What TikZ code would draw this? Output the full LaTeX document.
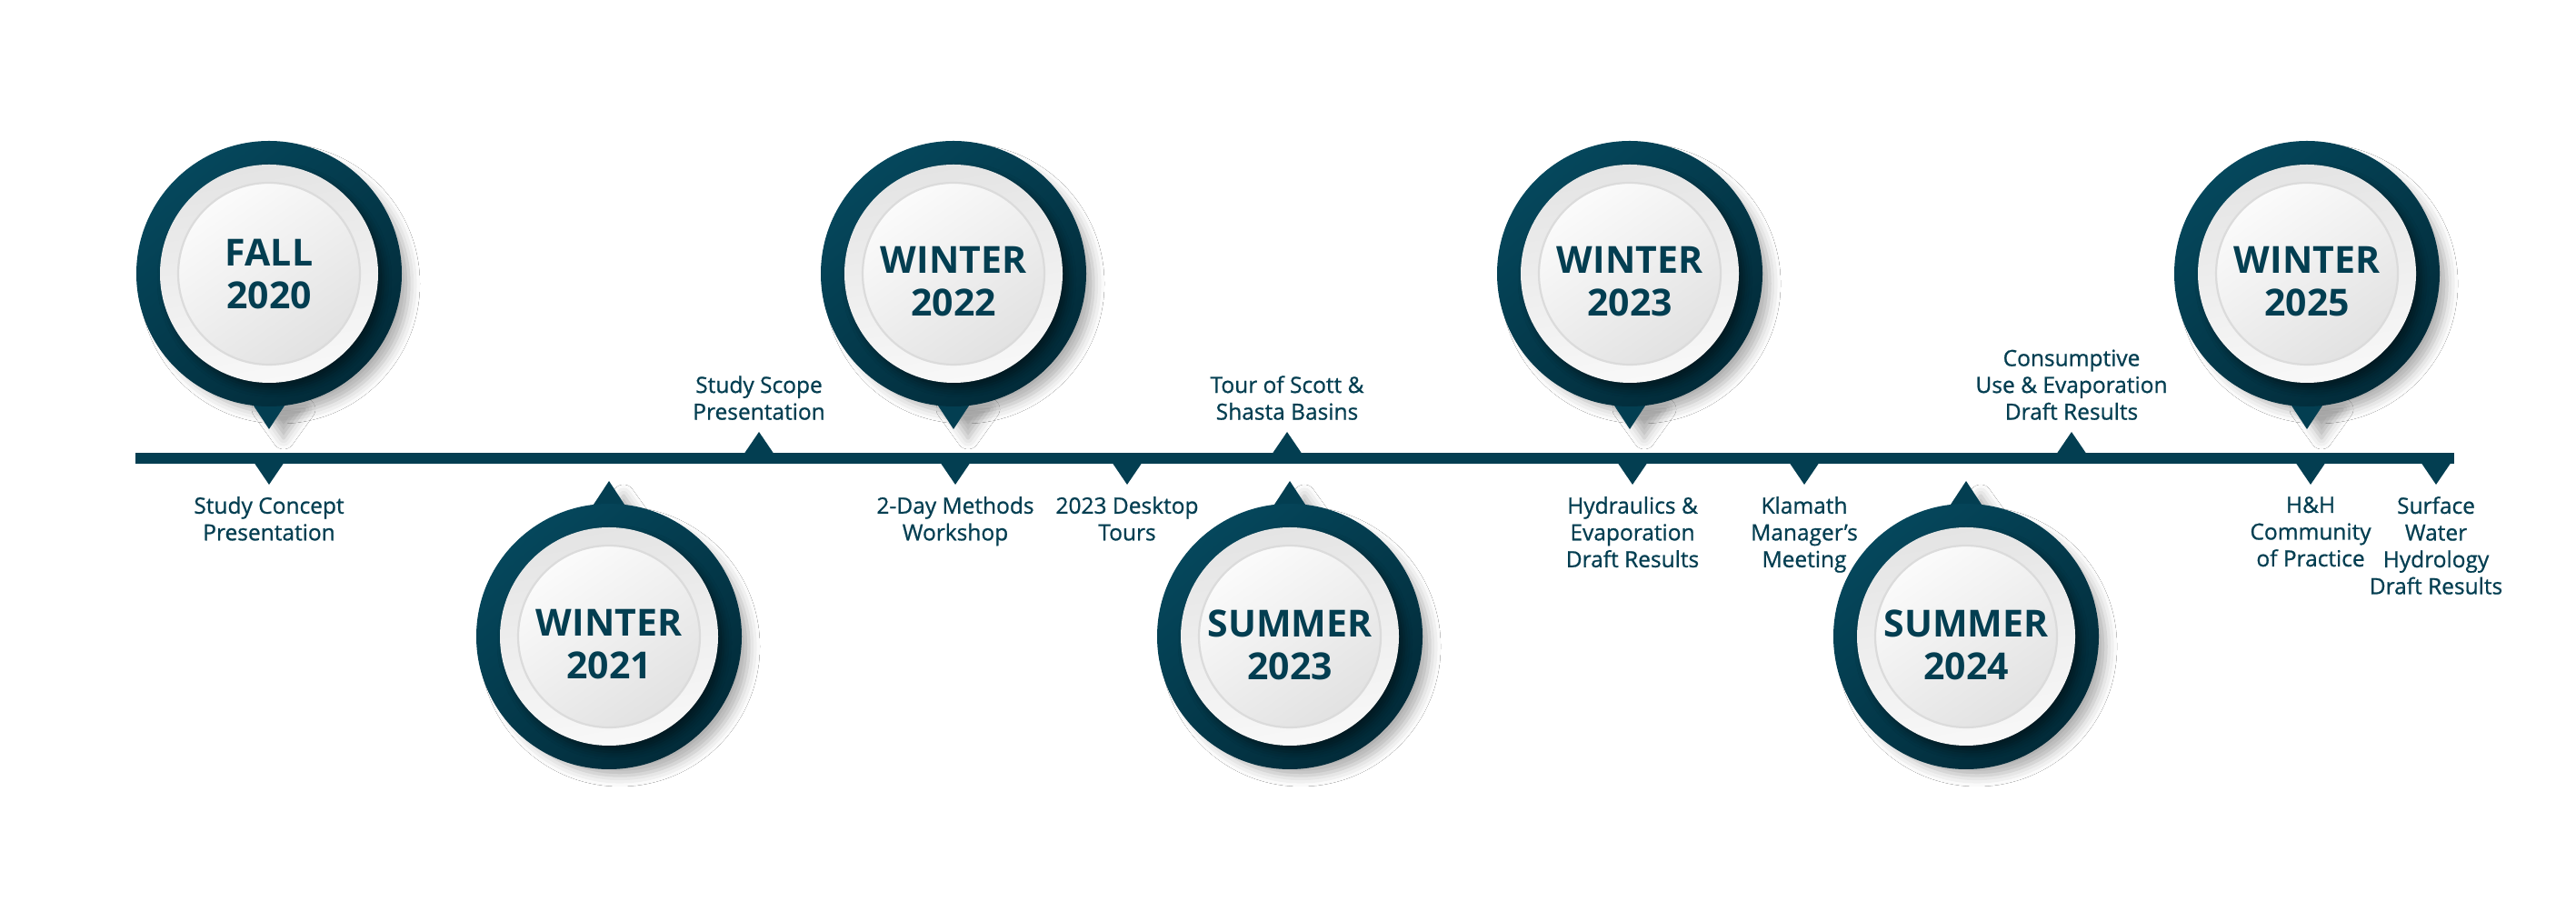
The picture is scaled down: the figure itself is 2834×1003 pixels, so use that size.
\documentclass[tikz,border=0pt]{standalone}
\usepackage{fontspec}
\setmainfont{Open Sans}
\newfontfamily\lblfont[RawFeature={embolden=0.8}]{Open Sans}
\usetikzlibrary{shadows.blur,calc}
\definecolor{tdark}{HTML}{033E51}
\definecolor{tdarkA}{HTML}{05475C}
\definecolor{tdarkB}{HTML}{022B39}
\definecolor{plateA}{HTML}{FBFBFB}
\definecolor{plateB}{HTML}{E2E2E2}
\definecolor{ringA}{HTML}{E4E4E4}
\definecolor{ringB}{HTML}{F8F8F8}
\tikzset{
  lbl/.style={text=tdark, font=\lblfont\fontsize{24.5}{29.5}\selectfont, align=center, inner sep=0pt},
  yr/.style={text=tdark, font=\bfseries\fontsize{41}{47}\selectfont, align=center, inner sep=0pt},
  pinshadow/.style={blur shadow={shadow xshift=16pt,shadow yshift=-13pt,shadow blur radius=12pt,shadow opacity=32}},
  tick/.style={fill=tdark},
}
% #1 name, #2 x, #3 y, #4 direction (1 = pointer down, -1 = pointer up), #5 text, #6 text drop
\newcommand\drawpin[6]{%
  \coordinate (#1) at (#2,#3);
  \path[pinshadow] ({#2-4},{#3+2}) circle (142);
  \path[pinshadow] ({#2-23},{#3-(#4)*136}) -- ({#2+23},{#3-(#4)*136}) -- ({#2},{#3-(#4)*168}) -- cycle;
  \fill[tdark] ({#2-23},{#3-(#4)*136}) -- ({#2+23},{#3-(#4)*136}) -- ({#2},{#3-(#4)*171}) coordinate (#1tip) -- cycle;
  \shade[top color=tdarkA, bottom color=tdarkB, shading angle=40] (#1) circle (146);
  \path[blur shadow={shadow xshift=6pt,shadow yshift=-7pt,shadow blur radius=9pt,shadow opacity=45}] (#1) circle (120);
  \shade[top color=ringA, bottom color=ringB, shading angle=10] (#1) circle (120);
  \shade[top color=plateA, bottom color=plateB, shading angle=35] (#1) circle (100);
  \draw[line width=2.2pt, draw=black!14] (#1) circle (100);
  \node[yr] (#1text) at ({#2},{#3-#6}) {#5};
}
\begin{document}
\begin{tikzpicture}[x=1pt,y=1pt]
\fill[white] (0,0) rectangle (2834,1003);
\useasboundingbox (0,0) rectangle (2834,1003);

% timeline bar
\coordinate (barL) at (149,493);
\coordinate (barR) at (2700,505);
\fill[tdark] (barL) rectangle (barR);

% ticks below the bar
\foreach \n/\x in {d1/296, d2/1051, d3/1240, d4/1796, d5/1985, d6/2542, d7/2680}{
  \fill[tick] (\x-17,495) -- (\x+17,495) -- (\x,470) coordinate (\n) -- cycle;
}
% ticks above the bar
\foreach \n/\x in {u1/835, u2/1416, u3/2279}{
  \fill[tick] (\x-17,503) -- (\x+17,503) -- (\x,528) coordinate (\n) -- cycle;
}

% pins
\drawpin{p1}{296}{702}{1}{FALL\\2020}{1}
\drawpin{p2}{670}{303}{-1}{WINTER\\2021}{9}
\drawpin{p3}{1049}{702}{1}{WINTER\\2022}{9}
\drawpin{p4}{1419}{303}{-1}{SUMMER\\2023}{9}
\drawpin{p5}{1793}{702}{1}{WINTER\\2023}{9}
\drawpin{p6}{2163}{303}{-1}{SUMMER\\2024}{9}
\drawpin{p7}{2538}{702}{1}{WINTER\\2025}{9}

% labels below
\node[lbl, anchor=north] (l1) at ($(d1)+(0,-13)$) {Study Concept\\Presentation};
\node[lbl, anchor=north] (l2) at ($(d2)+(0,-13)$) {2-Day Methods\\Workshop};
\node[lbl, anchor=north] (l3) at ($(d3)+(0,-13)$) {2023 Desktop\\Tours};
\node[lbl, anchor=north] (l4) at ($(d4)+(0,-13)$) {Hydraulics \&\\Evaporation\\Draft Results};
\node[lbl, anchor=north] (l5) at ($(d5)+(0,-13)$) {Klamath\\Manager’s\\Meeting};
\node[lbl, anchor=north] (l6) at ($(d6)+(0,-13)$) {H\&H\\Community\\of Practice};
\node[lbl, anchor=north] (l7) at ($(d7)+(0,-13)$) {Surface\\Water\\Hydrology\\Draft Results};
% labels above
\node[lbl, anchor=south] (l8) at ($(u1)+(0,13)$) {Study Scope\\Presentation};
\node[lbl, anchor=south] (l9) at ($(u2)+(0,13)$) {Tour of Scott \&\\Shasta Basins};
\node[lbl, anchor=south] (l10) at ($(u3)+(0,13)$) {Consumptive\\Use \& Evaporation\\Draft Results};
\end{tikzpicture}
\end{document}
